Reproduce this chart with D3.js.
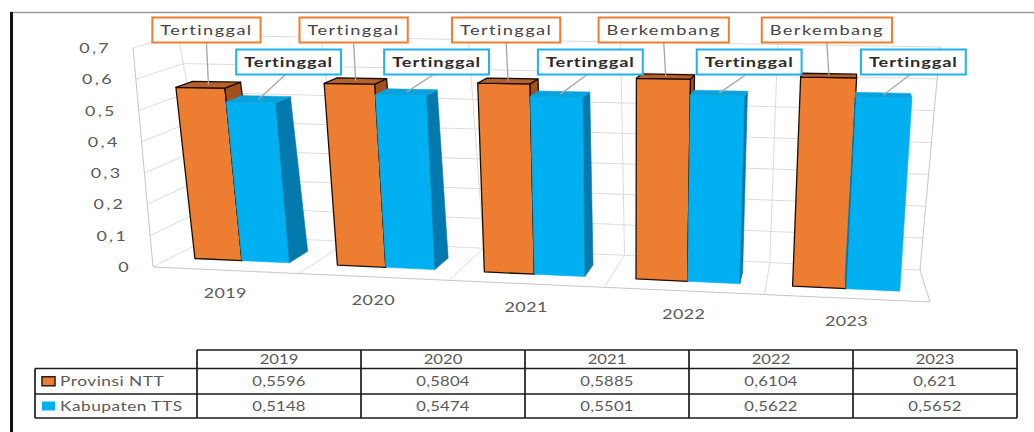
<!DOCTYPE html>
<html>
<head>
<meta charset="utf-8">
<script src="https://cdn.jsdelivr.net/npm/d3@7"></script>
<style>
  html, body { margin: 0; padding: 0; background: #ffffff; }
  svg { display: block; font-family: Lato, "Open Sans", sans-serif; }
</style>
</head>
<body>
<svg id="chart" width="1034" height="432"></svg>
<script>
// ---- data ----
const years = ["2019", "2020", "2021", "2022", "2023"];
const seriesNames = ["Provinsi NTT", "Kabupaten TTS"];
const provinsiNTT = [0.5596, 0.5804, 0.5885, 0.6104, 0.621];
const kabupatenTTS = [0.5148, 0.5474, 0.5501, 0.5622, 0.5652];
const statusNTT = ["Tertinggal", "Tertinggal", "Tertinggal", "Berkembang", "Berkembang"];
const statusTTS = ["Tertinggal", "Tertinggal", "Tertinggal", "Tertinggal", "Tertinggal"];
const yTicks = [0, 0.1, 0.2, 0.3, 0.4, 0.5, 0.6, 0.7];

// ---- look ----
const ORANGE = { front: "#ED7D31", top: "#B4612C", side: "#A2501C", stroke: "#1a0d05" };
const BLUE = { front: "#00B0F0", top: "#0AA2DC", side: "#0479AD", stroke: null };
const GRID = "#DCDCDC", EDGE = "#C6C6C6", TEXT = "#595959";
const SX = 1.28; // horizontal glyph stretch used for all text

// ---- 3D frame: corners of the plot box on screen (u across, v up, w depth) ----
const FRAME = {
  F00: [153, 267], F01: [133, 48], F10: [930, 302], F11: [945, 54],
  B00: [215, 235], B01: [178, 35], B10: [920, 270], B11: [940, 47]
};
const K = -0.0761;           // foreshortening along the category axis
const W_FRONT = 0.30, W_BACK = 0.66; // depth occupied by the columns

const lerp = (a, b, t) => [a[0] + (b[0] - a[0]) * t, a[1] + (b[1] - a[1]) * t];
function project(u, v, w) {
  const s = u * (1 + K) / (1 + K * u);
  const f0 = lerp(FRAME.F00, FRAME.F10, s), f1 = lerp(FRAME.F01, FRAME.F11, s);
  const b0 = lerp(FRAME.B00, FRAME.B10, s), b1 = lerp(FRAME.B01, FRAME.B11, s);
  return lerp(lerp(f0, f1, v), lerp(b0, b1, v), w);
}

// ---- scales ----
const yScale = d3.scaleLinear().domain([0, 0.7]).range([0, 1]);
const xBand = d3.scaleBand().domain(years).range([0, 1]).paddingInner(1 / 3).paddingOuter(1 / 6);
const sBand = d3.scaleBand().domain([0, 1]).range([0, xBand.bandwidth()]);
const locale = d3.formatLocale({ decimal: ",", thousands: ".", grouping: [3], currency: ["Rp", ""] });
const tickFmt = locale.format(".1~f");
const valFmt = locale.format(".4~f");

const svg = d3.select("#chart");
svg.append("rect").attr("width", 1034).attr("height", 432).attr("fill", "#fff");

function addText(parent, x, y, str, o = {}) {
  const g = parent.append("g").attr("transform", `translate(${x},${y}) scale(${o.sx || SX},1)`);
  return g.append("text")
    .attr("text-anchor", o.anchor || "middle")
    .attr("dy", "0.36em")
    .attr("font-size", o.size || 14)
    .attr("font-weight", o.weight || 400)
    .attr("letter-spacing", o.ls || 0)
    .attr("fill", o.fill || TEXT)
    .text(str);
}

// ---- walls, floor and gridlines ----
const gWall = svg.append("g").attr("fill", "none").attr("stroke-width", 1);
const seg = (a, b, c) => gWall.append("line")
  .attr("x1", a[0]).attr("y1", a[1]).attr("x2", b[0]).attr("y2", b[1]).attr("stroke", c);

yTicks.forEach(t => {
  const v = yScale(t);
  seg(project(0, v, 1), project(1, v, 1), GRID);   // back wall
  seg(project(0, v, 0), project(0, v, 1), GRID);   // side wall
});
const step = xBand.step(), gap = step - xBand.bandwidth();
const bounds = years.slice(1).map(y => xBand(y) - gap / 2);
bounds.forEach(u => {
  seg(project(u, 0, 1), project(u, 1, 1), GRID);
  seg(project(u, 0, 1), project(u, 0, 0), GRID);
});
seg(project(0, 0, 1), project(0, 1, 1), GRID);
seg(project(1, 0, 1), project(1, 1, 1), EDGE);
seg(project(1, 0, 1), project(1, 0, 0), EDGE);
seg(project(0, 0, 0), project(1, 0, 0), EDGE);
seg(project(0, 0, 0), project(0, 1, 0), EDGE);

// ---- columns ----
const area = pts => {
  let a = 0;
  for (let i = 0; i < pts.length; i++) {
    const p = pts[i], q = pts[(i + 1) % pts.length];
    a += p[0] * q[1] - q[0] * p[1];
  }
  return a / 2;
};
const gBars = svg.append("g").attr("stroke-linejoin", "round");
const tops = [[], []];

function drawBox(u0, u1, val, col) {
  const v = yScale(val), a = W_FRONT, b = W_BACK;
  const faces = [
    { pts: [[u0, 0, a], [u1, 0, a], [u1, v, a], [u0, v, a]], fill: col.front },
    { pts: [[u1, 0, a], [u1, 0, b], [u1, v, b], [u1, v, a]], fill: col.side },
    { pts: [[u0, 0, b], [u0, 0, a], [u0, v, a], [u0, v, b]], fill: col.side },
    { pts: [[u0, v, a], [u1, v, a], [u1, v, b], [u0, v, b]], fill: col.top }
  ];
  faces.forEach(f => {
    const p = f.pts.map(d => project(...d));
    if (area(p) >= 0) return;
    gBars.append("path")
      .attr("d", "M" + p.map(d => d.join(",")).join("L") + "Z")
      .attr("fill", f.fill)
      .attr("stroke", col.stroke || f.fill)
      .attr("stroke-width", col.stroke ? 1.3 : 0.6);
  });
  return project((u0 + u1) / 2, v, (a + b) / 2);
}

years.forEach((yr, i) => {
  const base = xBand(yr);
  [provinsiNTT, kabupatenTTS].forEach((series, k) => {
    const u0 = base + sBand(k), u1 = u0 + sBand.bandwidth();
    tops[k].push(drawBox(u0, u1, series[i], k === 0 ? ORANGE : BLUE));
  });
});

// ---- value callouts ----
const gLab = svg.append("g");
function callout(anchor, cx, cy, str, border, bold, lx) {
  const h = 25;
  gLab.append("line")
    .attr("x1", anchor[0]).attr("y1", anchor[1])
    .attr("x2", lx).attr("y2", cy + h / 2)
    .attr("stroke", "#A6A6A6").attr("stroke-width", 1.3);
  const box = gLab.append("rect").attr("fill", "#fff").attr("stroke", border).attr("stroke-width", 2);
  const t = addText(gLab, cx, cy, str, {
    weight: bold ? 700 : 400, fill: bold ? "#2b2b2b" : "#444444",
    size: 14, sx: 1.3, ls: bold ? 0.7 : 1.1
  });
  const w = t.node().getComputedTextLength() * 1.3 + 16;
  box.attr("x", cx - w / 2).attr("y", cy - h / 2).attr("width", w).attr("height", h);
}
tops[0].forEach((p, i) => callout(p, p[0] - 2, 30, statusNTT[i], "#ED7D31", false, p[0] - 2));
tops[1].forEach((p, i) => callout(p, p[0] + 30, 62, statusTTS[i], "#1FB2EA", true, p[0] + 27));

// ---- axis labels ----
const gAxis = svg.append("g");
yTicks.forEach(t => {
  const p = project(0, yScale(t), 0);
  addText(gAxis, p[0] - 22, p[1], tickFmt(t), { anchor: "end", size: 14, ls: 1.8 });
});
years.forEach(yr => {
  const p = project(xBand(yr) + xBand.bandwidth() / 2, 0, 0);
  addText(gAxis, p[0], p[1] + 23, yr, { size: 14, ls: 0.3 });
});

// ---- data table ----
const colX = d3.scaleBand().domain(years).range([197, 1017]);
const rowY = [350, 368.5, 394, 418];
const gT = svg.append("g");
const tl = (x1, y1, x2, y2) => gT.append("line")
  .attr("x1", x1).attr("y1", y1).attr("x2", x2).attr("y2", y2)
  .attr("stroke", "#1c1c1c").attr("stroke-width", 1.7);
tl(197, rowY[0], 1017, rowY[0]);
rowY.slice(1).forEach(y => tl(35, y, 1017, y));
tl(35, rowY[1], 35, rowY[3]);
years.forEach(yr => tl(colX(yr), rowY[0], colX(yr), rowY[3]));
tl(1017, rowY[0], 1017, rowY[3]);

years.forEach((yr, i) => {
  const cx = colX(yr) + colX.bandwidth() / 2;
  addText(gT, cx, (rowY[0] + rowY[1]) / 2, yr, { size: 13 });
  addText(gT, cx, (rowY[1] + rowY[2]) / 2, valFmt(provinsiNTT[i]), { size: 13, ls: 0.2 });
  addText(gT, cx, (rowY[2] + rowY[3]) / 2, valFmt(kabupatenTTS[i]), { size: 13, ls: 0.2 });
});
seriesNames.forEach((name, k) => {
  const cy = (rowY[k + 1] + rowY[k + 2]) / 2;
  gT.append("rect").attr("x", 42).attr("y", cy - 4.5).attr("width", 13).attr("height", 9)
    .attr("fill", k === 0 ? ORANGE.front : BLUE.front)
    .attr("stroke", k === 0 ? "#2a1a10" : "none").attr("stroke-width", 1.5);
  addText(gT, 60, cy, name, { anchor: "start", size: 13.5, ls: 0.4 });
});

// ---- outer frame ----
svg.append("line").attr("x1", 10).attr("y1", 12.5).attr("x2", 1034).attr("y2", 12.5)
  .attr("stroke", "#9a9a9a").attr("stroke-width", 1.5);
svg.append("line").attr("x1", 11.5).attr("y1", 12).attr("x2", 11.5).attr("y2", 432)
  .attr("stroke", "#111").attr("stroke-width", 3);
</script>
</body>
</html>
